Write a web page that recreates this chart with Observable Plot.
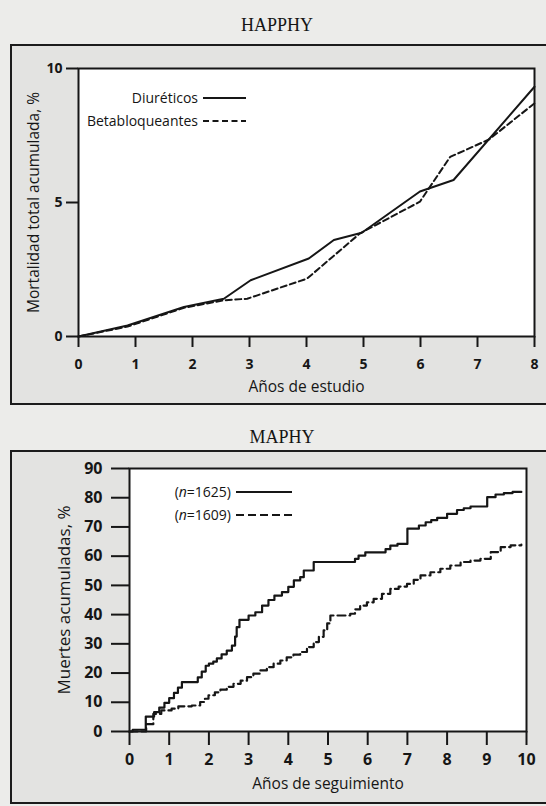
<!DOCTYPE html>
<html>
<head>
<meta charset="utf-8">
<script src="https://cdn.jsdelivr.net/npm/d3@7"></script>
<script src="https://cdn.jsdelivr.net/npm/@observablehq/plot@0.6"></script>
<style>
  body { margin: 0; background: #ececea; }
  #root { position: relative; width: 546px; height: 806px; overflow: hidden; font-family: "Open Sans", sans-serif; color: #151515; }
  .box { position: absolute; border: 2px solid #1c1c1c; background: #e3e3e1; box-sizing: border-box; }
  .title { position: absolute; font-family: "Liberation Serif", serif; font-size: 18px; transform: translateX(-50%); white-space: nowrap; }
  .chart { position: absolute; left: 0; }
  .legend { position: absolute; font-size: 14px; line-height: 23px; }
  .legend .row { display: flex; justify-content: flex-end; align-items: center; white-space: nowrap; }
  .legend svg { margin-left: 5px; }
  svg [aria-label$="tick label"] { font-weight: bold; }
  svg [aria-label$="axis label"] { font-weight: normal; }
  #c1 [aria-label$="tick label"] { font-size: 14px; }
  #c1 [aria-label$="axis label"] { font-size: 15.5px; }
  #c2 [aria-label$="tick label"] { font-size: 16px; }
  #c2 [aria-label="x-axis label"] { font-size: 15.5px; }
  #c2 [aria-label="y-axis label"] { font-size: 17px; }
</style>
</head>
<body>
<div id="root">
  <div class="box" style="left:10px; top:44px; width:540px; height:361px;"></div>
  <div class="box" style="left:10px; top:450px; width:540px; height:354px;"></div>
  <div class="title" style="left:277px; top:15px;">HAPPHY</div>
  <div class="title" style="left:282px; top:427px;">MAPHY</div>
  <div class="chart" id="c1" style="top:44px;"></div>
  <div class="chart" id="c2" style="top:450px;"></div>
  <div class="legend" id="leg1" style="left:60px; top:86px; width:186px;"></div>
  <div class="legend" id="leg2" style="left:140px; top:480px; width:152px;"></div>
</div>
<script>
// ---------- HAPPHY data ----------
const happhyDiurYears = [0, 0.86, 1.85, 2.55, 3.02, 4.04, 4.48, 4.97, 5.99, 6.58, 8.0];
const happhyDiurValues = [0, 0.41, 1.10, 1.41, 2.10, 2.91, 3.60, 3.87, 5.41, 5.84, 9.32];
const happhyBetaYears = [0, 0.86, 1.85, 2.55, 2.96, 4.01, 4.94, 5.99, 6.52, 7.2, 8.0];
const happhyBetaValues = [0, 0.37, 1.07, 1.35, 1.41, 2.16, 3.85, 5.03, 6.70, 7.35, 8.70];
const happhyXTicks = [0, 1, 2, 3, 4, 5, 6, 7, 8];
const happhyYTicks = [0, 5, 10];
const happhyLegend = ["Diuréticos", "Betabloqueantes"];

// ---------- MAPHY data (Kaplan-Meier style steps) ----------
const maphySolidYears = [0, 0.08, 0.41, 0.62, 0.75, 0.88, 1.0, 1.12, 1.22, 1.32, 1.72, 1.82, 1.92, 2.0, 2.11, 2.2, 2.32, 2.45, 2.58, 2.66, 2.70, 2.77, 3.0, 3.17, 3.34, 3.5, 3.65, 3.84, 4.0, 4.14, 4.30, 4.39, 4.64, 5.68, 5.77, 5.94, 6.45, 6.57, 6.75, 7.0, 7.29, 7.46, 7.6, 7.75, 8.0, 8.25, 8.42, 8.59, 9.01, 9.22, 9.43, 9.65, 9.87];
const maphySolidValues = [0, 0.6, 5.1, 6.6, 8.2, 9.8, 11.4, 13.2, 15.0, 16.9, 18.5, 20.5, 22.5, 23.2, 23.9, 25.0, 26.4, 27.7, 29.4, 32.5, 35.7, 38.2, 39.7, 40.8, 43.1, 45.0, 46.5, 47.7, 49.5, 51.7, 52.8, 55.1, 58.0, 59.1, 60.2, 61.3, 62.4, 63.6, 64.2, 69.4, 70.5, 71.6, 72.3, 73.1, 74.5, 75.8, 76.4, 77.0, 80.2, 81.1, 81.6, 82.0, 82.0];
const maphyDashYears = [0, 0.42, 0.6, 0.8, 1.06, 1.23, 1.57, 1.78, 1.9, 1.99, 2.15, 2.29, 2.45, 2.62, 2.8, 2.96, 3.12, 3.29, 3.46, 3.63, 3.8, 3.96, 4.13, 4.3, 4.47, 4.64, 4.77, 4.89, 4.98, 5.06, 5.56, 5.68, 5.81, 5.98, 6.15, 6.36, 6.57, 6.78, 6.99, 7.16, 7.33, 7.58, 7.83, 8.08, 8.34, 8.59, 8.84, 9.10, 9.35, 9.6, 9.87];
const maphyDashValues = [0, 2.5, 6.0, 7.2, 7.8, 8.6, 8.9, 10.1, 11.2, 12.4, 13.4, 14.3, 15.3, 16.3, 17.4, 18.6, 19.8, 20.9, 22.0, 23.2, 24.3, 25.4, 26.3, 27.2, 28.9, 30.6, 32.4, 34.6, 37.0, 39.7, 40.3, 41.8, 43.1, 44.2, 45.4, 47.1, 48.8, 49.6, 50.5, 51.9, 53.4, 54.5, 55.7, 56.8, 58.0, 58.5, 59.1, 61.4, 63.1, 63.7, 64.0];
const maphyXTicks = [0, 1, 2, 3, 4, 5, 6, 7, 8, 9, 10];
const maphyYTicks = [0, 10, 20, 30, 40, 50, 60, 70, 80, 90];
const maphyLegend = ["1625", "1609"];

const ink = "#161616";
const toRows = (xs, ys) => xs.map((x, i) => ({x, y: ys[i]}));

// ---------- HAPPHY chart ----------
const c1 = Plot.plot({
  width: 546, height: 360,
  marginLeft: 78, marginRight: 12, marginTop: 24, marginBottom: 68,
  style: {background: "transparent", fontFamily: "Open Sans", fontSize: "14px", color: ink, overflow: "visible"},
  x: {domain: [0, 8]},
  y: {domain: [0, 10]},
  marks: [
    Plot.frame({fill: "white", stroke: null}),
    Plot.axisX({ticks: happhyXTicks, tickSize: 11, tickPadding: 12, strokeWidth: 2, label: "Años de estudio", labelAnchor: "center", labelOffset: 55, labelArrow: "none"}),
    Plot.axisY({ticks: happhyYTicks, tickSize: 12, tickPadding: 4, strokeWidth: 2, label: "Mortalidad total acumulada, %", labelAnchor: "center", labelOffset: 51, labelArrow: "none"}),
    Plot.line(toRows(happhyDiurYears, happhyDiurValues), {x: "x", y: "y", stroke: ink, strokeWidth: 2}),
    Plot.line(toRows(happhyBetaYears, happhyBetaValues), {x: "x", y: "y", stroke: ink, strokeWidth: 2, strokeDasharray: "6,3.5"}),
    Plot.frame({stroke: ink, strokeWidth: 2})
  ]
});
document.getElementById("c1").appendChild(c1);

// ---------- MAPHY chart ----------
const c2 = Plot.plot({
  width: 546, height: 356,
  marginLeft: 129, marginRight: 20, marginTop: 18, marginBottom: 75,
  style: {background: "transparent", fontFamily: "Open Sans", fontSize: "14px", color: ink, overflow: "visible"},
  x: {domain: [0, 10]},
  y: {domain: [0, 90]},
  marks: [
    Plot.frame({fill: "white", stroke: null}),
    Plot.axisX({ticks: maphyXTicks, tickSize: 14, tickPadding: 8, strokeWidth: 2, label: "Años de seguimiento", labelAnchor: "center", labelOffset: 57, labelArrow: "none"}),
    Plot.axisY({ticks: maphyYTicks, tickSize: 18, tickPadding: 9, strokeWidth: 2, label: "Muertes acumuladas, %", labelAnchor: "center", labelOffset: 72, labelArrow: "none"}),
    Plot.line(toRows(maphySolidYears, maphySolidValues), {x: "x", y: "y", curve: "step-after", stroke: ink, strokeWidth: 2.2}),
    Plot.line(toRows(maphyDashYears, maphyDashValues), {x: "x", y: "y", curve: "step-after", stroke: ink, strokeWidth: 2.2, strokeDasharray: "8,4"}),
    Plot.frame({stroke: ink, strokeWidth: 2})
  ]
});
document.getElementById("c2").appendChild(c2);

// ---------- legends ----------
function sample(dash, w) {
  return `<svg width="${w}" height="6"><line x1="0" y1="3" x2="${w}" y2="3" stroke="${ink}" stroke-width="2"${dash ? ` stroke-dasharray="${dash}"` : ""}/></svg>`;
}
document.getElementById("leg1").innerHTML =
  `<div class="row"><span>${happhyLegend[0]}</span>${sample(null, 43)}</div>` +
  `<div class="row"><span>${happhyLegend[1]}</span>${sample("6,3.5", 43)}</div>`;
document.getElementById("leg2").innerHTML =
  `<div class="row"><span>(<i>n</i>=${maphyLegend[0]})</span>${sample(null, 56)}</div>` +
  `<div class="row"><span>(<i>n</i>=${maphyLegend[1]})</span>${sample("8,4", 56)}</div>`;
</script>
</body>
</html>
